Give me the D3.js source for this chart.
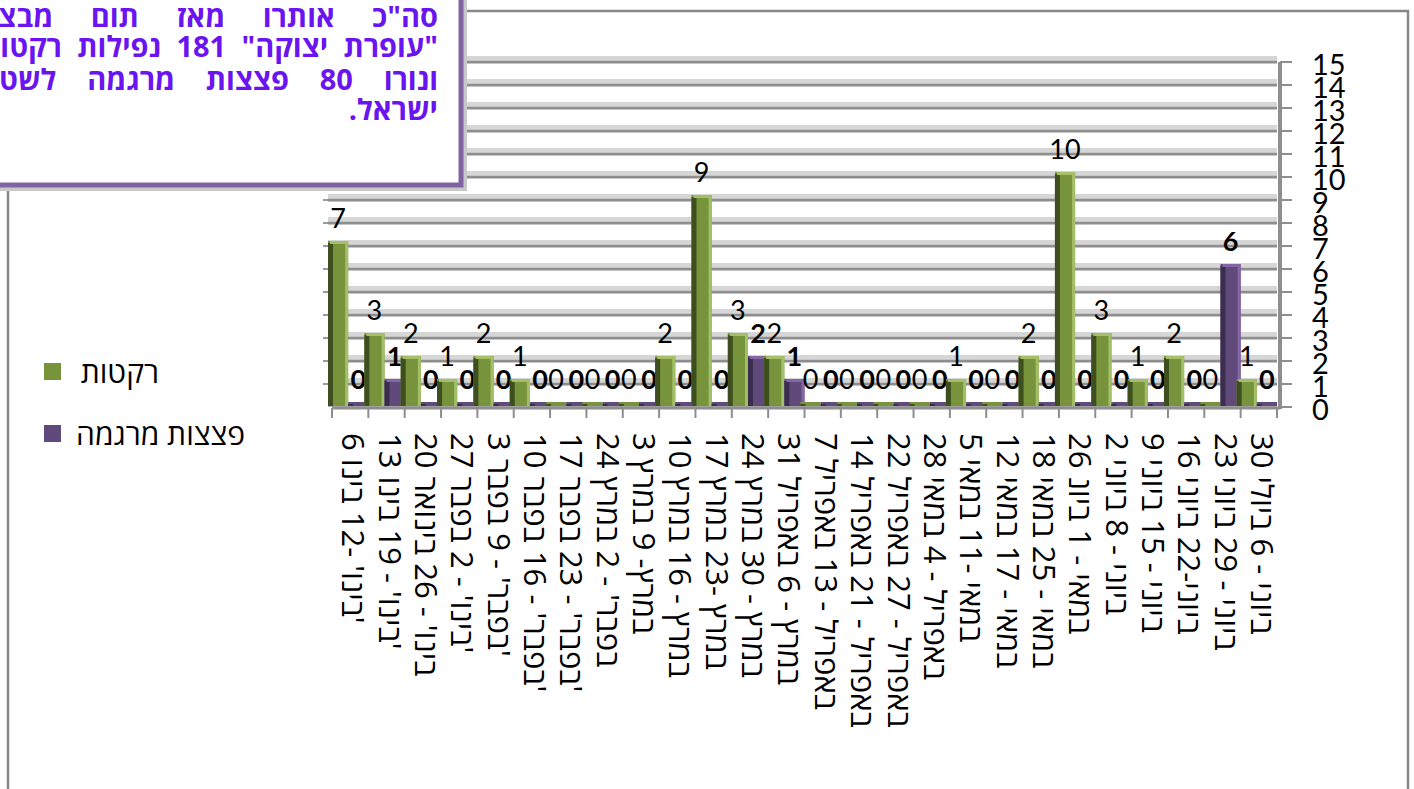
<!DOCTYPE html>
<html>
<head>
<meta charset="utf-8">
<script src="https://cdn.jsdelivr.net/npm/d3@7"></script>
<style>
  body { margin: 0; background: #fff; overflow: hidden; }
  #chart { position: relative; width: 1414px; height: 789px; }
  .note-line { position: absolute; direction: rtl; font-family: "Open Sans", sans-serif;
               font-weight: bold; font-size: 29px; color: #6a14f0; white-space: nowrap; line-height: 32px; }
</style>
</head>
<body>
<div id="chart"></div>
<script>
// weeks (x axis categories)
var weeks = [
  "6 בינו' -12 בינו'", "13 בינו' - 19 בינו'", "20 בינו' - 26 בינואר", "27 בינו' - 2 בפבר'",
  "3 בפבר' - 9 בפבר'", "10 בפבר' - 16 בפבר'", "17 בפבר' - 23 בפבר'", "24 בפבר' - 2 במרץ",
  "3 במרץ- 9 במרץ", "10 במרץ - 16 במרץ", "17 במרץ -23 במרץ", "24 במרץ - 30 במרץ",
  "31 במרץ - 6 באפריל", "7 באפריל - 13 באפריל", "14 באפריל - 21 באפריל", "22 באפריל - 27 באפריל",
  "28 באפריל - 4 במאי", "5 במאי -11 במאי", "12 במאי - 17 במאי", "18 במאי - 25 במאי",
  "26 במאי - 1 ביונ", "2 ביוני - 8 ביוני", "9 ביוני - 15 ביוני", "16 ביוני-22 ביוני",
  "23 ביוני - 29 ביוני", "30 ביוני - 6 ביולי"
];
var rockets = [7, 3, 2, 1, 2, 1, 0, 0, 0, 2, 9, 3, 2, 0, 0, 0, 0, 1, 0, 2, 10, 3, 1, 2, 0, 1];
var mortars = [0, 1, 0, 0, 0, 0, 0, 0, 0, 0, 0, 2, 1, 0, 0, 0, 0, 0, 0, 0, 0, 0, 0, 0, 6, 0];
var seriesNames = ["רקטות", "פצצות מרגמה"];
var yTicks = d3.range(0, 16);
var noteLines = [
  'סה"כ אותרו מאז תום מבצע',
  '"עופרת יצוקה" 181 נפילות רקטות',
  'ונורו 80 פצצות מרגמה לשטח',
  'ישראל.'
];

var width = 1414, height = 789;
var colors = [
  {main: "#77933c", dark: "#3e4e1e", light: "#a3bf68"},
  {main: "#604a7b", dark: "#3b2d4e", light: "#8466a6"}
];
var hebFont = "'Open Sans', sans-serif";

var container = d3.select("#chart");
var svg = container.append("svg")
    .attr("width", width)
    .attr("height", height);

// chart frame
svg.append("rect")
    .attr("x", 8).attr("y", 11)
    .attr("width", 1400).attr("height", 800)
    .attr("fill", "none")
    .attr("stroke", "#878787")
    .attr("stroke-width", 2.5);

var x = d3.scaleBand().domain(weeks).range([332, 1277]).padding(0);
var sub = d3.scaleBand().domain([0, 1]).range([-4, x.bandwidth()]).padding(0);
var y = d3.scaleLinear().domain([0, 15]).range([407, 62]);

// back wall gridlines
var grid = svg.append("g");
yTicks.filter(d => d > 0).forEach(function(d) {
    grid.append("line")
        .attr("x1", 328).attr("x2", 1277)
        .attr("y1", y(d) - 4).attr("y2", y(d) - 4)
        .attr("stroke", "#d6d6d6").attr("stroke-width", 4);
    grid.append("line")
        .attr("x1", 328).attr("x2", 1277)
        .attr("y1", y(d)).attr("y2", y(d))
        .attr("stroke", "#8e8e8e").attr("stroke-width", 3);
    grid.append("line")
        .attr("x1", 323).attr("x2", 328)
        .attr("y1", y(d)).attr("y2", y(d))
        .attr("stroke", "#9a9a9a").attr("stroke-width", 2);
});

// floor
svg.append("line")
    .attr("x1", 328).attr("x2", 1277)
    .attr("y1", 406).attr("y2", 406)
    .attr("stroke", "#b0b0b0").attr("stroke-width", 2);

// bars, week by week so the next week overlaps the previous one
var barData = [];
weeks.forEach(function(w, i) {
    barData.push({week: w, s: 0, v: rockets[i]});
    barData.push({week: w, s: 1, v: mortars[i]});
});

var bars = svg.append("g").selectAll("g")
    .data(barData)
    .enter()
    .append("g")
    .attr("transform", d => `translate(${x(d.week) + sub(d.s)},0)`);

var bw = sub.bandwidth();
bars.append("rect")
    .attr("x", 0)
    .attr("y", d => y(d.v) - 5)
    .attr("width", bw)
    .attr("height", d => 406 - (y(d.v) - 5))
    .attr("fill", d => colors[d.s].main);
bars.append("rect")
    .attr("x", 0)
    .attr("y", d => y(d.v) - 3)
    .attr("width", 5)
    .attr("height", d => Math.max(0, 406 - (y(d.v) - 3)))
    .attr("fill", d => colors[d.s].dark);
bars.append("rect")
    .attr("x", bw - 3)
    .attr("y", d => y(d.v) - 3)
    .attr("width", 3)
    .attr("height", d => Math.max(0, 406 - (y(d.v) - 3)))
    .attr("fill", d => colors[d.s].light)
    .attr("opacity", d => d.v > 0 ? 1 : 0);
bars.append("rect")
    .attr("x", 2)
    .attr("y", d => y(d.v) - 5)
    .attr("width", bw - 2)
    .attr("height", 3)
    .attr("fill", d => colors[d.s].light)
    .attr("opacity", d => d.v > 0 ? 1 : 0);

// value labels
bars.append("text")
    .attr("x", bw / 2)
    .attr("y", d => y(d.v) - 27)
    .attr("dy", "0.35em")
    .attr("text-anchor", "middle")
    .attr("font-family", "Lato, 'Open Sans', sans-serif")
    .attr("font-size", 27)
    .attr("font-weight", d => d.s === 1 ? "bold" : "normal")
    .attr("fill", "#000")
    .text(d => d.v);

// x axis
var xAxis = svg.append("g");
xAxis.append("line")
    .attr("x1", 332).attr("x2", 1280)
    .attr("y1", 408).attr("y2", 408)
    .attr("stroke", "#8e8e8e").attr("stroke-width", 3);
xAxis.selectAll(".tick")
    .data(weeks.concat([null]))
    .enter()
    .append("line")
    .attr("x1", (d, i) => x.range()[0] + i * x.step())
    .attr("x2", (d, i) => x.range()[0] + i * x.step())
    .attr("y1", 408).attr("y2", 418)
    .attr("stroke", "#8e8e8e").attr("stroke-width", 2);
xAxis.selectAll(".lbl")
    .data(weeks)
    .enter()
    .append("text")
    .attr("transform", d => `translate(${x(d) + x.bandwidth() / 2 + 3},433) rotate(90)`)
    .attr("dy", "0.35em")
    .attr("font-family", hebFont)
    .attr("font-size", 31)
    .attr("fill", "#000")
    .text(d => d);

// right value axis
var yAxis = svg.append("g");
yAxis.append("line")
    .attr("x1", 1280).attr("x2", 1280)
    .attr("y1", y(15)).attr("y2", 409)
    .attr("stroke", "#8e8e8e").attr("stroke-width", 4);
yAxis.selectAll(".t")
    .data(yTicks)
    .enter()
    .append("line")
    .attr("x1", 1280).attr("x2", 1292)
    .attr("y1", d => y(d)).attr("y2", d => y(d))
    .attr("stroke", "#8e8e8e").attr("stroke-width", 2);
yAxis.selectAll(".l")
    .data(yTicks)
    .enter()
    .append("text")
    .attr("x", 1312)
    .attr("y", d => y(d) + 3)
    .attr("dy", "0.35em")
    .attr("font-family", "Lato, 'Open Sans', sans-serif")
    .attr("font-size", 29)
    .attr("fill", "#000")
    .text(d => d);

// legend
var legendY = [372, 434];
var legendTextEnd = [159, 245];
seriesNames.forEach(function(name, i) {
    svg.append("rect")
        .attr("x", 44).attr("y", legendY[i] - 9)
        .attr("width", 17).attr("height", 17)
        .attr("fill", colors[i].main);
    svg.append("text")
        .attr("x", legendTextEnd[i])
        .attr("y", legendY[i] + 11)
        .attr("text-anchor", "end")
        .attr("font-family", hebFont)
        .attr("font-size", 30)
        .attr("fill", "#000")
        .text(name);
});

// note box (top left)
svg.append("rect")
    .attr("x", -20).attr("y", -20)
    .attr("width", 487).attr("height", 211)
    .attr("fill", "#c8c8c8");
svg.append("rect")
    .attr("x", -20).attr("y", -20)
    .attr("width", 481).attr("height", 205)
    .attr("fill", "#fff")
    .attr("stroke", "#8064a2")
    .attr("stroke-width", 5);

var lineTops = [0, 30, 63, 93];
noteLines.forEach(function(t, i) {
    var last = i === noteLines.length - 1;
    container.append("div")
        .attr("class", "note-line")
        .style("left", "-20px")
        .style("width", "458px")
        .style("top", lineTops[i] + "px")
        .style("text-align", last ? "right" : "justify")
        .style("text-align-last", last ? "right" : "justify")
        .text(t);
});
</script>
</body>
</html>
